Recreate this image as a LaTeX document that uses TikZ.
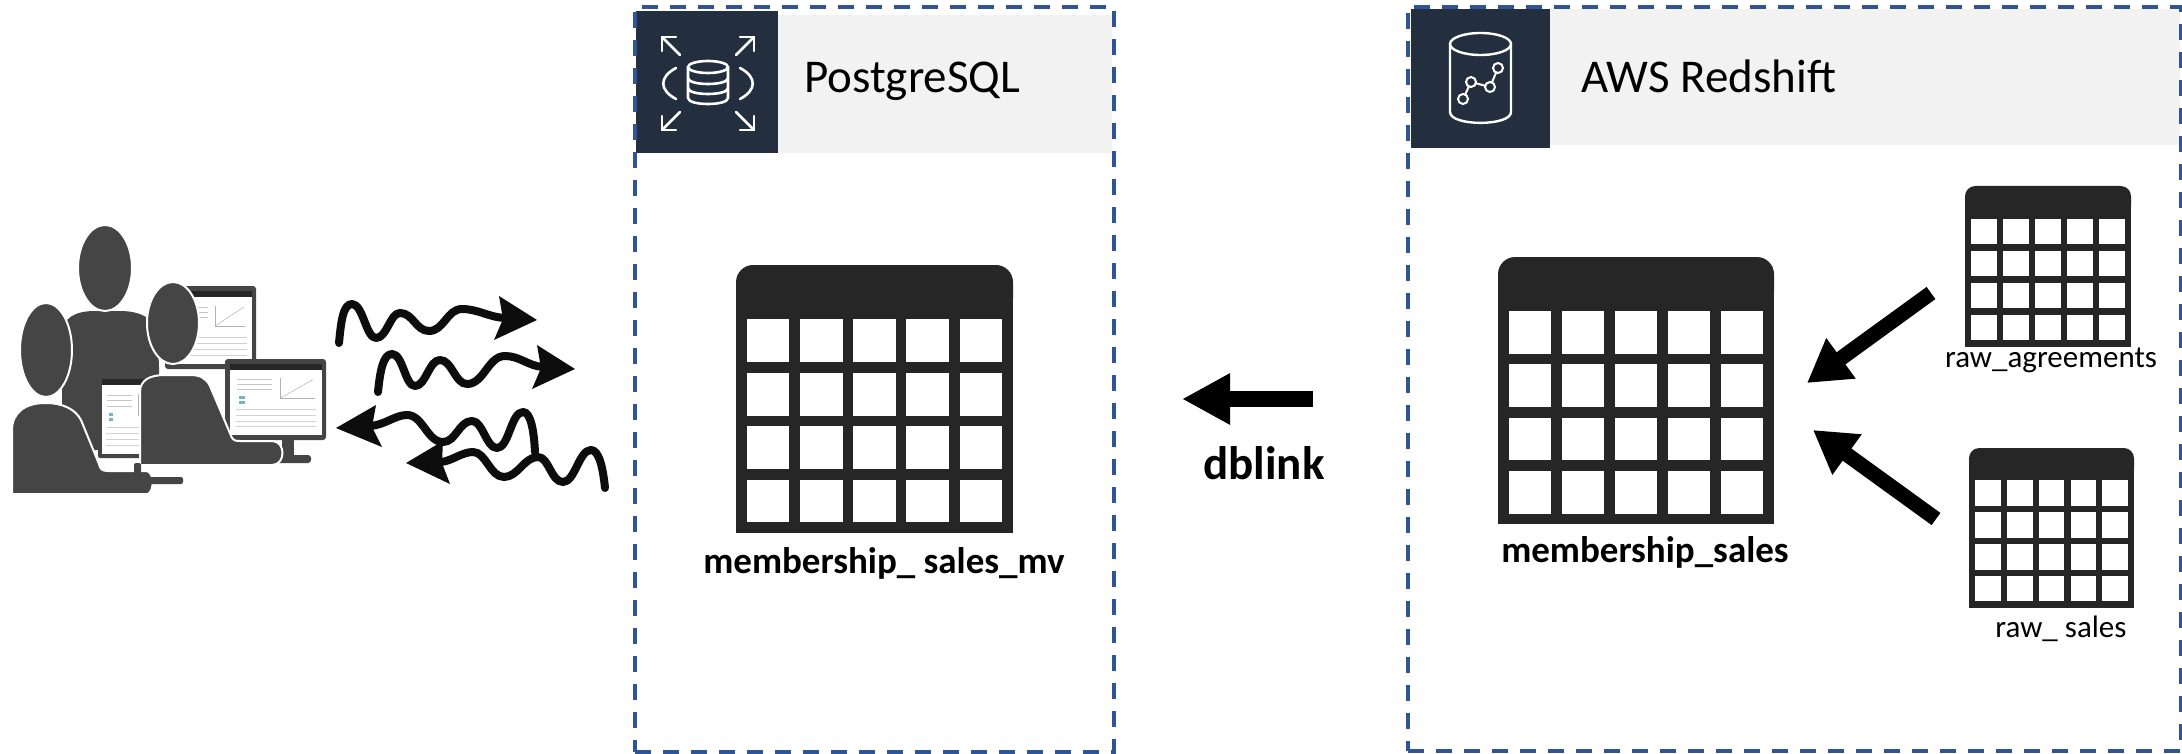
\documentclass[tikz,border=0pt]{standalone}
\usepackage{fontspec}
\setmainfont{Carlito}
\usetikzlibrary{arrows.meta}

\definecolor{frameblue}{HTML}{2F5597}
\definecolor{awsink}{HTML}{232F3E}
\definecolor{bandgray}{HTML}{F2F2F2}
\definecolor{tableink}{HTML}{262626}
\definecolor{peoplegray}{HTML}{454545}
\definecolor{inkblack}{HTML}{0D0D0D}

% Grid table icon: #1 name, #2 left, #3 top, #4 width (all in px units)
\newcommand{\gridtable}[4]{%
  \pgfmathsetmacro{\gtH}{0.968*#4}%
  \pgfmathsetmacro{\gtB}{0.0386*#4}%
  \pgfmathsetmacro{\gtC}{0.154*#4}%
  \pgfmathsetmacro{\gtG}{(#4-2*\gtB-5*\gtC)/4}%
  \pgfmathsetmacro{\gtHd}{0.196*#4}%
  \pgfmathsetmacro{\gtR}{0.062*#4}%
  \pgfmathsetmacro{\gtRow}{(\gtH-\gtHd-\gtB-3*\gtG)/4}%
  \node[tablebody, minimum width=#4pt, minimum height=\gtH pt, anchor=north west] (#1) at (#2,#3) {};
  \fill[tableink, rounded corners=\gtR pt] (#2,#3) rectangle ++(#4,3*\gtR);
  \fill[tableink] (#2,#3+1.5*\gtR) rectangle ++(#4,\gtH-1.5*\gtR);
  \foreach \gi in {0,...,4}{\foreach \gj in {0,...,3}{%
    \fill[white] (#2+\gtB+\gi*\gtC+\gi*\gtG, #3+\gtHd+\gj*\gtRow+\gj*\gtG) rectangle ++(\gtC,\gtRow);}}%
}

% Small dashboard screen: #1 left, #2 top, #3 width, #4 height
\newcommand{\dashscreen}[4]{%
  \fill[white] (#1,#2) rectangle ++(#3,#4);
  \fill[black!85] (#1,#2) rectangle ++(#3,0.08*#4);
  \foreach \sl in {0.22,0.29,0.36}{\draw[gray!45, line width=0.6pt] (#1+0.08*#3,#2+\sl*#4) -- ++(0.38*#3,0);}
  \draw[gray!60, line width=0.5pt] (#1+0.55*#3,#2+0.48*#4) -- (#1+0.9*#3,#2+0.22*#4);
  \draw[gray!60, line width=0.5pt] (#1+0.55*#3,#2+0.2*#4) -- (#1+0.55*#3,#2+0.48*#4) -- (#1+0.92*#3,#2+0.48*#4);
  \fill[teal!55] (#1+0.1*#3,#2+0.45*#4) rectangle ++(0.06*#3,0.04*#4);
  \fill[teal!55] (#1+0.1*#3,#2+0.52*#4) rectangle ++(0.06*#3,0.04*#4);
  \foreach \sl in {0.64,0.72,0.8,0.88}{\draw[gray!35, line width=0.6pt] (#1+0.06*#3,#2+\sl*#4) -- ++(0.88*#3,0);}
}

\tikzset{
  tablebody/.style={rectangle, inner sep=0pt, outer sep=0pt},
  iconsq/.style={rectangle, fill=awsink, inner sep=0pt, outer sep=0pt},
  band/.style={rectangle, fill=bandgray, inner sep=0pt, outer sep=0pt},
  zone/.style={rectangle, draw=frameblue, line width=3.5pt, dash pattern=on 16pt off 12pt, inner sep=0pt, outer sep=0pt},
  headtxt/.style={inner sep=0pt, font=\fontsize{47}{56}\selectfont},
  boldlbl/.style={inner sep=0pt, font=\fontsize{37}{44}\selectfont\bfseries},
  smalllbl/.style={inner sep=0pt, font=\fontsize{31}{37}\selectfont},
  linklbl/.style={inner sep=0pt, font=\fontsize{47}{56}\selectfont\bfseries},
  iconline/.style={draw=white, line width=2.6pt, line cap=round, line join=round},
  fatarrow/.style={line width=16pt, -{Triangle[length=48pt, width=48pt]}},
  fatarrowsm/.style={line width=15pt, -{Triangle[length=42pt, width=47pt]}},
  squig/.style={draw=inkblack, line width=8pt, line cap=round, line join=round},
  squighead/.style={fill=inkblack},
}

\begin{document}
\begin{tikzpicture}[x=1pt, y=-1pt]
\fill[white] (0,0) rectangle (2182,754);
\useasboundingbox (0,0) rectangle (2182,754);

% ---------------- users at their dashboards ----------------
% person in the back
\fill[peoplegray] (62,450) -- (62,335) .. controls (62,318) and (75,311) .. (95,311)
  -- (120,311) .. controls (145,311) and (158,322) .. (158,340) -- (162,450) -- cycle;
\fill[peoplegray, draw=white, line width=2pt] (105,268) ellipse [x radius=27, y radius=43];
% back monitor
\fill[peoplegray, rounded corners=3pt] (165,286) rectangle (256,369);
\dashscreen{170}{291}{82}{73}
% right monitor with stand
\fill[peoplegray] (282,438) rectangle (294,458);
\fill[peoplegray, rounded corners=3pt] (276,455) rectangle (311,463);
\fill[peoplegray, rounded corners=3pt] (225,359) rectangle (326,440);
\dashscreen{230}{364}{92}{71}
% laptop
\fill[peoplegray, rounded corners=2pt] (98,375) rectangle (172,458);
\dashscreen{102}{379}{66}{75}
% person on the left
\fill[peoplegray, draw=white, line width=2pt] (12,494) -- (12,430) .. controls (12,413) and (25,403) .. (45,403)
  .. controls (63,403) and (75,409) .. (81,420) -- (99,464) .. controls (100,469) and (102,471) .. (108,471)
  -- (146,471) .. controls (154,471) and (155,490) .. (148,494) -- cycle;
\fill[peoplegray, draw=white, line width=2pt] (46,350) ellipse [x radius=26, y radius=47];
% person on the right
\fill[peoplegray, draw=white, line width=2pt] (140,465) -- (140,392) .. controls (140,380) and (150,375) .. (165,375)
  -- (190,375) .. controls (200,375) and (206,378) .. (210,386) -- (232,438)
  .. controls (233,440) and (235,441) .. (240,441) -- (272,441)
  .. controls (286,441) and (286,465) .. (272,465) -- cycle;
\fill[peoplegray, draw=white, line width=2pt] (173,323) ellipse [x radius=26, y radius=41];
% desk pieces
\fill[peoplegray, rounded corners=2pt] (134,463) rectangle (141,484);
\fill[peoplegray, rounded corners=2pt] (134,477) rectangle (183,484);

% requests and responses: wavy lines with kite heads
\draw[squig] (339,343) .. controls (341,322) and (343,304) .. (352,304)
  .. controls (363,304) and (366,338) .. (376,338)
  .. controls (387,338) and (390,313) .. (400,313)
  .. controls (413,313) and (416,331) .. (429,331)
  .. controls (444,331) and (447,309) .. (462,309)
  .. controls (478,309) and (488,317) .. (505,318);
\fill[squighead] (537,320) -- (499,296) -- (503,319) -- (494,340) -- cycle;

\draw[squig] (378,392) .. controls (380,372) and (383,354) .. (392,354)
  .. controls (403,354) and (405,386) .. (415,386)
  .. controls (426,386) and (429,360) .. (440,360)
  .. controls (452,360) and (455,384) .. (467,384)
  .. controls (484,384) and (488,356) .. (505,356)
  .. controls (520,356) and (528,366) .. (543,367);
\fill[squighead] (575,369) -- (537,345) -- (541,368) -- (532,389) -- cycle;

\draw[squig] (535,452) .. controls (534,432) and (531,412) .. (523,412)
  .. controls (511,412) and (509,448) .. (497,448)
  .. controls (486,448) and (483,421) .. (472,421)
  .. controls (459,421) and (456,442) .. (443,442)
  .. controls (427,442) and (423,415) .. (407,415)
  .. controls (395,415) and (385,425) .. (370,426);
\fill[squighead] (336,428) -- (376,405) -- (372,427) -- (382,447) -- cycle;

\draw[squig] (605,488) .. controls (603,468) and (599,450) .. (591,450)
  .. controls (579,450) and (575,482) .. (563,482)
  .. controls (551,482) and (549,457) .. (538,457)
  .. controls (524,457) and (518,477) .. (504,477)
  .. controls (490,477) and (486,452) .. (473,452)
  .. controls (462,452) and (452,461) .. (441,462);
\fill[squighead] (406,463) -- (443,441) -- (442,463) -- (450,484) -- cycle;

% ---------------- PostgreSQL ----------------
\node[iconsq, minimum width=142pt, minimum height=142pt, anchor=north west] (pgicon) at (636,11) {};
\node[band, minimum width=334pt, minimum height=138pt, anchor=north west] (pgband) at (778,15) {};
\node[headtxt, anchor=base west] (pgtitle) at (804,93) {PostgreSQL};
\begin{scope}[shift={(708,83)}]
  \draw[iconline] (0,-16) ellipse [x radius=20, y radius=6];
  \draw[iconline] (-20,-16) -- (-20,15) .. controls (-20,23) and (20,23) .. (20,15) -- (20,-16);
  \draw[iconline] (-20,-5) .. controls (-20,3) and (20,3) .. (20,-5);
  \draw[iconline] (-20,5) .. controls (-20,13) and (20,13) .. (20,5);
  \draw[iconline] (-32,-15) .. controls (-49,-6) and (-49,7) .. (-32,16);
  \draw[iconline] (32,-15) .. controls (49,-6) and (49,7) .. (32,16);
  \draw[iconline] (-28,-28) -- (-46,-46);
  \draw[iconline] (-46,-32) -- (-46,-46) -- (-32,-46);
  \draw[iconline] (28,-28) -- (46,-46);
  \draw[iconline] (32,-46) -- (46,-46) -- (46,-32);
  \draw[iconline] (-28,29) -- (-46,47);
  \draw[iconline] (-46,33) -- (-46,47) -- (-32,47);
  \draw[iconline] (28,29) -- (46,47);
  \draw[iconline] (32,47) -- (46,47) -- (46,33);
\end{scope}

\gridtable{mv}{736}{265}{277}
\node[boldlbl, anchor=base] (mvlabel) at (884,573) {membership\_ sales\_mv};

% ---------------- AWS Redshift ----------------
\node[iconsq, minimum width=139pt, minimum height=139pt, anchor=north west] (rsicon) at (1411,9) {};
\node[band, minimum width=630pt, minimum height=136pt, anchor=north west] (rsband) at (1550,9) {};
\node[headtxt, anchor=base west] (rstitle) at (1581,93) {AWS Redshift};
\begin{scope}[shift={(1480.5,78.5)}]
  \draw[iconline, line width=2.4pt] (0,-34.5) ellipse [x radius=30.5, y radius=11];
  \draw[iconline, line width=2.4pt] (-30.5,-34.5) -- (-30.5,33.5) .. controls (-30.5,48) and (30.5,48) .. (30.5,33.5) -- (30.5,-34.5);
  \draw[iconline, line width=2pt] (-17.5,20.5) -- (-9.5,3.5) -- (9.5,8.5) -- (17.5,-10.5);
  \foreach \p in {(-17.5,20.5),(-9.5,3.5),(9.5,8.5),(17.5,-10.5)}
    \filldraw[fill=awsink, draw=white, line width=2pt] \p circle [radius=5];
\end{scope}

\gridtable{ms}{1498}{257}{276}
\node[boldlbl, anchor=base] (mslabel) at (1645,562) {membership\_sales};

\gridtable{ag}{1965}{186}{166}
\node[smalllbl, anchor=base] (aglabel) at (2051,367) {raw\_agreements};

\gridtable{rs}{1969}{448}{165}
\node[smalllbl, anchor=base] (rslabel) at (2061,637) {raw\_ sales};

% loads into membership_sales
\coordinate (agtail) at (1931,293);
\coordinate (agtip) at (1807,383);
\coordinate (rstail) at (1936,519);
\coordinate (rstip) at (1813,430);
\draw[fatarrowsm] (agtail) -- (agtip);
\draw[fatarrowsm] (rstail) -- (rstip);

% dblink between the two databases
\coordinate (dbtail) at (1313,399);
\coordinate (dbtip) at (1182,399);
\draw[fatarrow] (dbtail) -- (dbtip);
\node[linklbl, anchor=base] (dblabel) at (1264,479) {dblink};

% dashed zones
\node[zone, minimum width=479pt, minimum height=745pt, anchor=north west] (pgzone) at (635,7) {};
\node[zone, minimum width=773pt, minimum height=744pt, anchor=north west] (rszone) at (1408,7) {};
\end{tikzpicture}
\end{document}
